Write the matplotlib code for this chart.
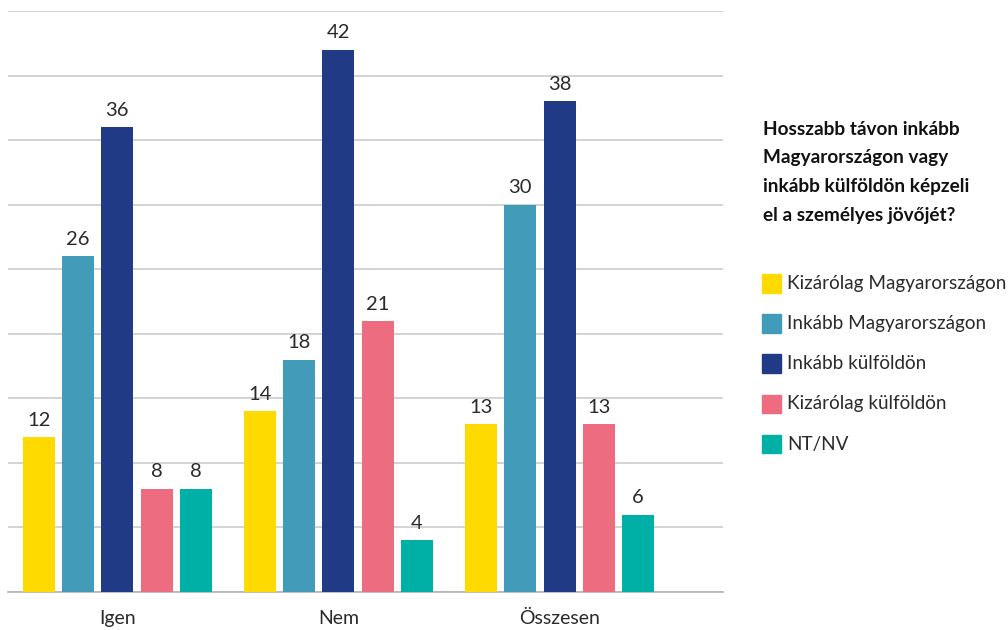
import numpy as np
import matplotlib
matplotlib.use("Agg")
import matplotlib.pyplot as plt
from matplotlib.patches import Rectangle

plt.rcParams['font.family'] = ['Lato', 'DejaVu Sans']

categories = ["Igen", "Nem", "Összesen"]
series_names = [
    "Kizárólag Magyarországon",
    "Inkább Magyarországon",
    "Inkább külföldön",
    "Kizárólag külföldön",
    "NT/NV",
]
values = [
    [12, 14, 13],   # Kizárólag Magyarországon
    [26, 18, 30],   # Inkább Magyarországon
    [36, 42, 38],   # Inkább külföldön
    [8, 21, 13],    # Kizárólag külföldön
    [8, 4, 6],      # NT/NV
]
colors = ["#FFDA00", "#429CB9", "#213A86", "#EE6C80", "#00B0A6"]
title_lines = [
    "Hosszabb távon inkább",
    "Magyarországon vagy",
    "inkább külföldön képzeli",
    "el a személyes jövőjét?",
]

W, H = 1008, 630
fig = plt.figure(figsize=(W / 100, H / 100), dpi=100)

# plot area in pixels
ax_left, ax_right, ax_bottom, ax_top = 8, 723, 592, 11
ax = fig.add_axes([ax_left / W, 1 - ax_bottom / H,
                   (ax_right - ax_left) / W, (ax_bottom - ax_top) / H])

pitch = 1.0
bar_w = 0.816
group_step = 5.64
n = len(series_names)
centers = np.arange(len(categories)) * group_step

for i, (name, vals, col) in enumerate(zip(series_names, values, colors)):
    xs = centers + (i - (n - 1) / 2) * pitch
    bars = ax.bar(xs, vals, width=bar_w, color=col, label=name, zorder=3)
    ax.bar_label(bars, padding=6, fontsize=14.5, color="#2a2a2a")

ax.set_ylim(0, 45)
ax.set_xlim(-2.79, 15.45)
ax.set_yticks(np.arange(0, 46, 5))
ax.yaxis.grid(True, color="#c8c8c8", linewidth=1.1, zorder=0)
ax.set_axisbelow(True)
ax.tick_params(axis="y", left=False, labelleft=False)
ax.set_xticks(centers)
ax.set_xticklabels(categories, fontsize=14, color="#2a2a2a")
ax.tick_params(axis="x", length=0, pad=13)
for s in ["top", "right", "left"]:
    ax.spines[s].set_visible(False)
ax.spines["bottom"].set_color("#b4b4b4")
ax.spines["bottom"].set_linewidth(1.2)

# question title, one line at a time
for k, line in enumerate(title_lines):
    fig.text(763 / W, 1 - (135 + k * 28.5) / H, line, fontsize=13.7,
             fontweight="bold", color="#111111", ha="left", va="baseline")

# legend: colour squares with labels
for k, (name, col) in enumerate(zip(series_names, colors)):
    yc = 283.3 + k * 40.2
    fig.patches.append(Rectangle((762 / W, 1 - (yc + 9.3) / H), 18.7 / W, 18.6 / H,
                                 transform=fig.transFigure, color=col))
    fig.text(787 / W, 1 - yc / H, name, fontsize=13.6, color="#2a2a2a",
             ha="left", va="center")

fig.savefig("out.png", dpi=100)
